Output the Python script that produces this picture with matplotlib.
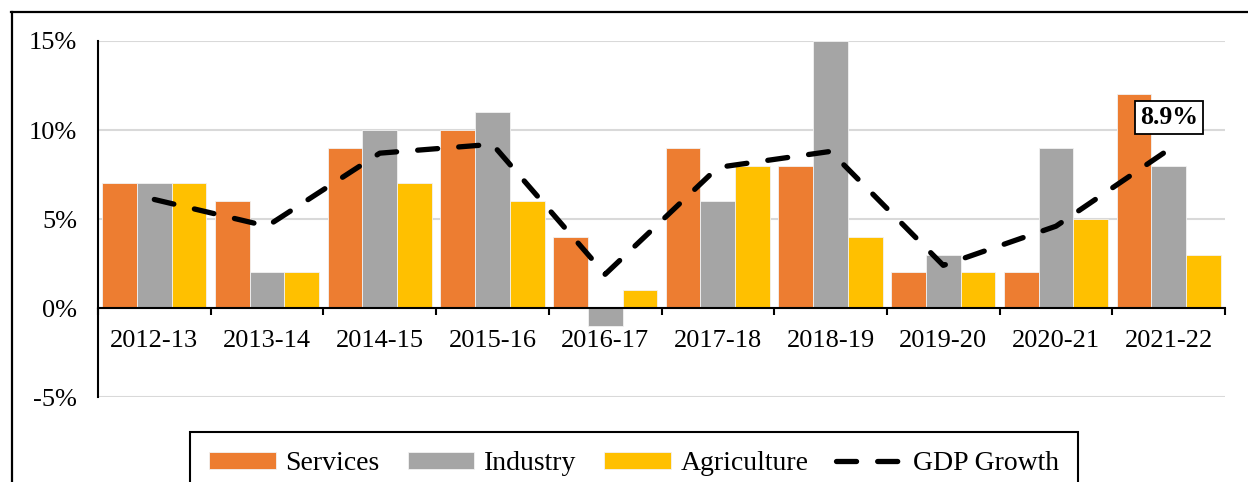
import numpy as np
import matplotlib

matplotlib.use("Agg")
import matplotlib.pyplot as plt
from matplotlib.lines import Line2D

YEARS = ["2012-13", "2013-14", "2014-15", "2015-16", "2016-17",
         "2017-18", "2018-19", "2019-20", "2020-21", "2021-22"]
SERVICES = [7, 6, 9, 10, 4, 9, 8, 2, 2, 12]
INDUSTRY = [7, 2, 10, 11, -1, 6, 15, 3, 9, 8]
AGRICULTURE = [7, 2, 7, 6, 1, 8, 4, 2, 5, 3]
GDP_GROWTH = [6.1, 4.6, 8.7, 9.2, 1.9, 7.9, 8.8, 2.4, 4.6, 8.9]

COLORS = {"Services": "#ED7D31", "Industry": "#A5A5A5", "Agriculture": "#FFC000"}

plt.rcParams["font.family"] = ["Liberation Serif", "DejaVu Serif"]

fig = plt.figure(figsize=(12.48, 4.82), dpi=100)
ax = fig.add_axes([0.0785, 0.176, 0.9031, 0.739])

x = np.arange(len(YEARS))
bar_width = 0.308
series = [("Services", SERVICES), ("Industry", INDUSTRY), ("Agriculture", AGRICULTURE)]
handles = []
for i, (name, values) in enumerate(series):
    bars = ax.bar(x + (i - 1) * bar_width, values, width=bar_width, color=COLORS[name],
                  edgecolor="#f2f2f2", linewidth=0.6, label=name, zorder=2)
    handles.append(bars)

(gdp_line,) = ax.plot(x, GDP_GROWTH, color="black", linewidth=3.8, linestyle=(0, (3.8, 4.0)),
                      dash_capstyle="round", solid_joinstyle="round", label="GDP Growth", zorder=3)
handles.append(gdp_line)

ax.text(x[-1], 10.7, f"{GDP_GROWTH[-1]:.1f}%", ha="center", va="center",
        fontsize=18.5, fontweight="bold", zorder=4,
        bbox=dict(boxstyle="square,pad=0.2", facecolor="white", edgecolor="black", linewidth=1.3))

ax.set_xlim(-0.5, len(YEARS) - 0.5)
ax.set_ylim(-5, 15)
ax.set_yticks([-5, 0, 5, 10, 15])
ax.set_yticklabels([f"{v}%" for v in [-5, 0, 5, 10, 15]])
ax.yaxis.grid(True, color="#d9d9d9", linewidth=1.5, zorder=0)
ax.set_axisbelow(True)

ax.spines["bottom"].set_position(("data", 0))
ax.spines["bottom"].set_linewidth(1.5)
ax.spines["left"].set_linewidth(1.5)
ax.spines["top"].set_visible(False)
ax.spines["right"].set_visible(False)
ax.spines["bottom"].set_zorder(5)

ax.set_xticks(x)
ax.set_xticklabels(YEARS)
ax.set_xticks(np.arange(-0.5, len(YEARS)), minor=True)
ax.tick_params(axis="x", which="major", length=0, pad=16, labelsize=19)
ax.tick_params(axis="x", which="minor", length=5, width=1.5, direction="out")
ax.tick_params(axis="y", length=0, pad=15, labelsize=19)

# outer frame of the figure box
fig.add_artist(Line2D([11 / 1248, 1], [1 - 11.5 / 482] * 2, color="black", linewidth=1.6))
fig.add_artist(Line2D([11.5 / 1248] * 2, [0, 1 - 11.5 / 482], color="black", linewidth=1.6))

leg = fig.legend(handles, [h.get_label() for h in handles], loc="upper center",
                 bbox_to_anchor=(0.508, 0.104), ncol=4, fontsize=20, frameon=True,
                 fancybox=False, edgecolor="black", framealpha=1, borderaxespad=0,
                 handlelength=2.4, handleheight=0.6, handletextpad=0.35,
                 columnspacing=1.0, borderpad=0.7)
leg.get_frame().set_linewidth(1.5)

fig.savefig("out.png", dpi=100)
